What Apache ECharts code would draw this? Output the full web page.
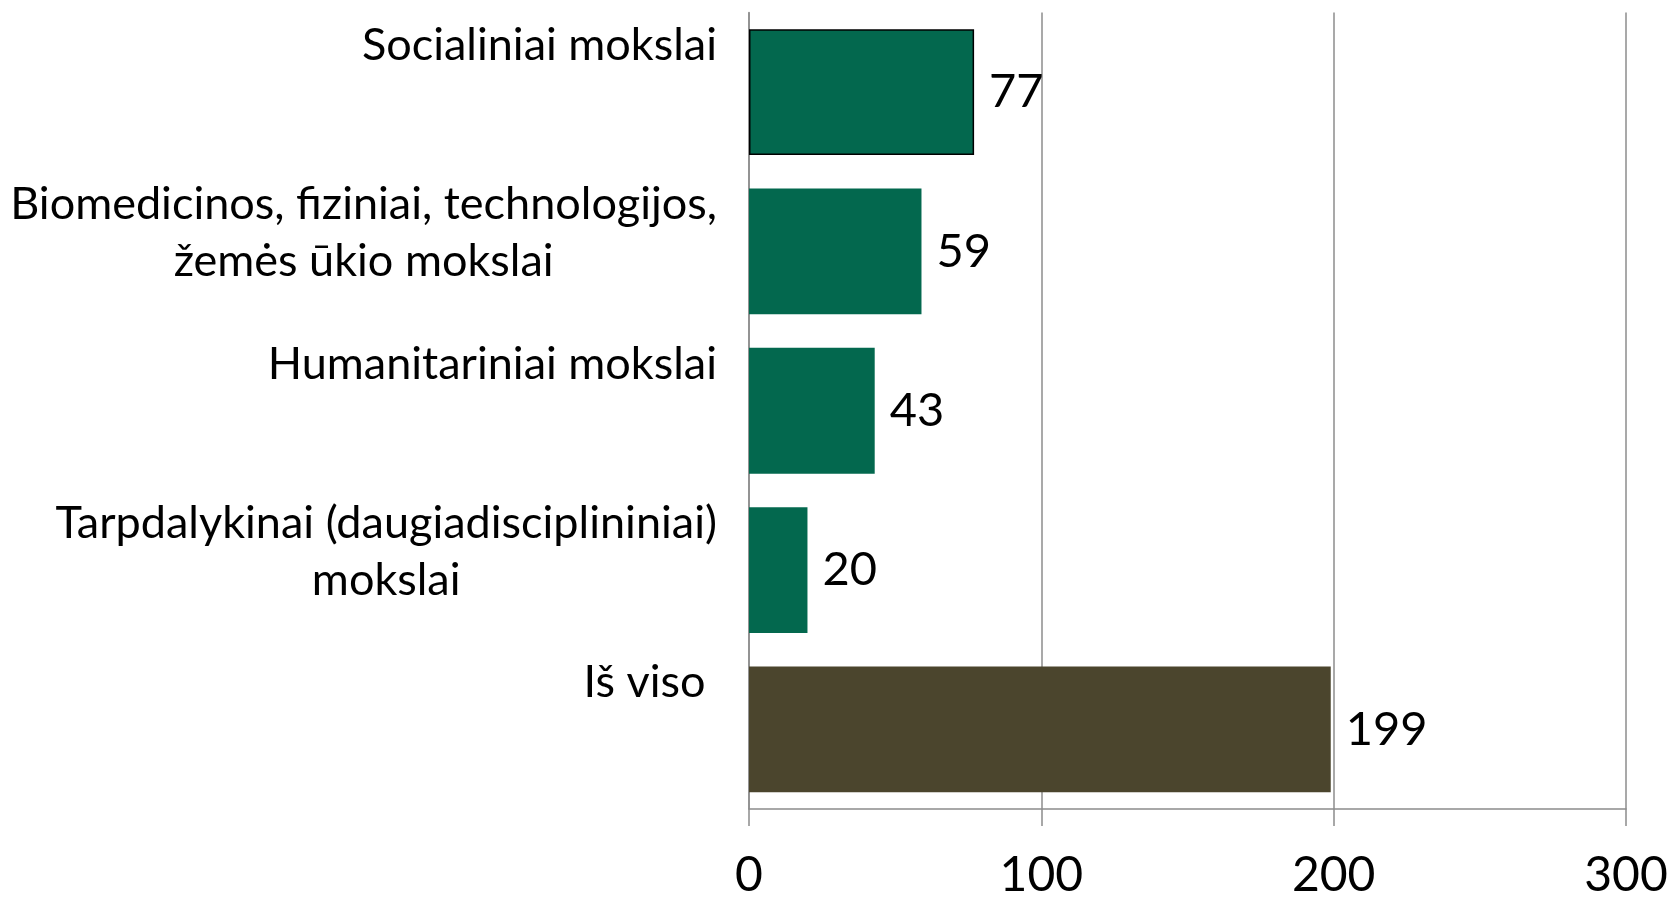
<!DOCTYPE html>
<html>
<head>
<meta charset="utf-8">
<script src="https://cdn.jsdelivr.net/npm/echarts@6/dist/echarts.min.js"></script>
<style>
html,body{margin:0;padding:0;background:#fff;}
#chart{width:1670px;height:898px;}
</style>
</head>
<body>
<div id="chart"></div>
<script>
// ---- data ----
const categories = [
  'Socialiniai mokslai',
  'Biomedicinos, fiziniai, technologijos,\nžemės ūkio mokslai',
  'Humanitariniai mokslai',
  'Tarpdalykinai (daugiadisciplininiai)\nmokslai',
  'Iš viso '
];
const values = [77, 59, 43, 20, 199];
const xTicks = [0, 100, 200, 300];

// ---- styles ----
const FONT = 'Lato, "Open Sans", sans-serif';
const GREEN = '#03684E';
const OLIVE = '#4B452D';
const GRID = '#8c8c8c';
const CAT_FONT = 45;
const CAT_LH = 57;
const BLOCK_H = 150;

const chart = echarts.init(document.getElementById('chart'), null, {renderer: 'canvas'});

const barData = values.map((v, i) => {
  let style = {color: GREEN};
  if (i === values.length - 1) style = {color: OLIVE};
  if (i === 0) style = {color: GREEN, borderColor: '#000', borderWidth: 1.5};
  return {value: v, itemStyle: style};
});

const option = {
  backgroundColor: '#fff',
  animation: false,
  grid: {left: 749, right: 44, top: 12.5, bottom: 89, containLabel: false, outerBoundsMode: 'none'},
  xAxis: {
    type: 'value',
    min: xTicks[0],
    max: xTicks[xTicks.length - 1],
    interval: xTicks[1] - xTicks[0],
    axisLine: {show: true, lineStyle: {color: GRID, width: 1.5}},
    axisTick: {show: true, length: 17, lineStyle: {color: GRID, width: 1.5}},
    splitLine: {show: true, lineStyle: {color: GRID, width: 1.5}},
    axisLabel: {
      fontFamily: FONT, fontSize: 48, color: '#000', lineHeight: 56, margin: 39
    }
  },
  yAxis: {
    type: 'category',
    data: categories,
    inverse: true,
    axisLine: {show: true, lineStyle: {color: GRID, width: 1.5}},
    axisTick: {show: false},
    splitLine: {show: false},
    axisLabel: {
      interval: 0,
      margin: 32,
      fontFamily: FONT,
      fontSize: CAT_FONT,
      color: '#000',
      formatter: function (val) {
        const lines = val.split('\n');
        return lines.map(l => '{t|' + l + '}').join('\n') + '\n{s' + lines.length + '| }';
      },
      rich: {
        t: {fontFamily: FONT, fontSize: CAT_FONT, lineHeight: CAT_LH, align: 'center', color: '#000'},
        s1: {fontSize: 2, lineHeight: BLOCK_H - CAT_LH},
        s2: {fontSize: 2, lineHeight: BLOCK_H - 2 * CAT_LH}
      }
    }
  },
  series: [{
    type: 'bar',
    data: barData,
    barCategoryGap: '21%',
    label: {
      show: true,
      position: 'right',
      distance: 15,
      fontFamily: FONT,
      fontSize: 47,
      color: '#000'
    }
  }]
};

chart.setOption(option);
</script>
</body>
</html>
